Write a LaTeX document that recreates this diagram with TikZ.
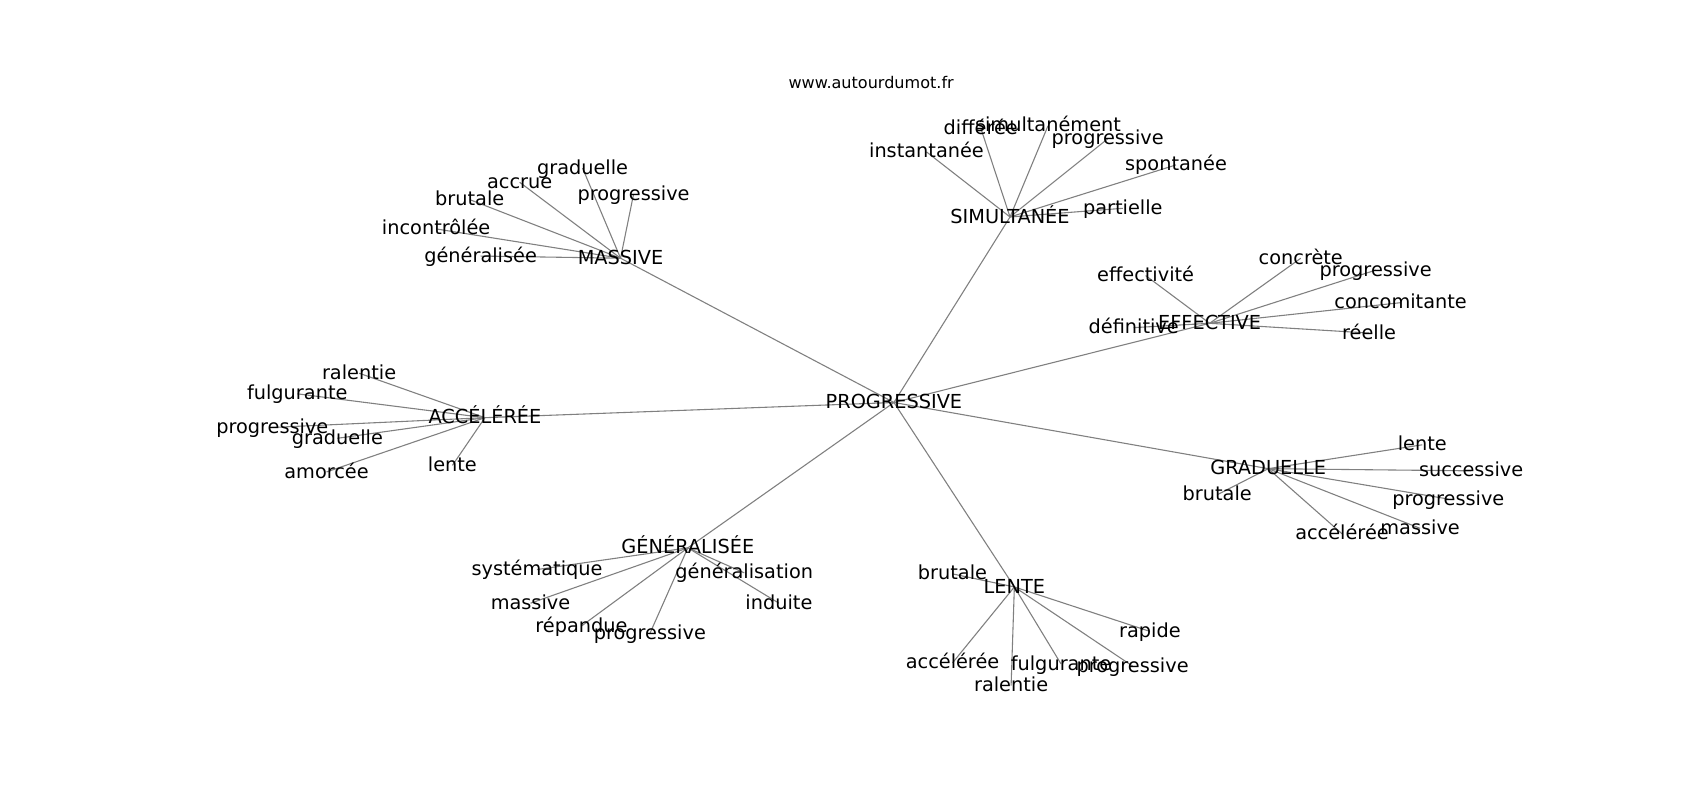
\documentclass[tikz,border=0pt]{standalone}
\usepackage{fontspec}
\setmainfont{DejaVu Sans}
\usetikzlibrary{backgrounds}
\tikzset{
  word/.style={inner sep=0pt, text height=15.5pt, text depth=4.3pt, font=\fontsize{17.8}{20}\selectfont, text=black},
  titletext/.style={inner sep=0pt, font=\fontsize{14.8}{17}\selectfont, text=black},
  link/.style={draw=black!50, line width=1pt}
}
\begin{document}
\begin{tikzpicture}[x=1pt,y=-1pt]
\useasboundingbox (0,0) rectangle (1567,737);
\node[titletext] (title) at (803,76) {www.autourdumot.fr};
\begin{scope}[yshift=-2pt]
% hub
\node[word] (P) at (824,369) {PROGRESSIVE};
% SIMULTANEE
\node[word] (S) at (931,198) {SIMULTANÉE};
\node[word] (S1) at (854,138) {instantanée};
\node[word] (S2) at (904,116) {différée};
\node[word] (S3) at (966,114) {simultanément};
\node[word] (S4) at (1021,126) {progressive};
\node[word] (S5) at (1084,150) {spontanée};
\node[word] (S6) at (1035,190) {partielle};
% MASSIVE
\node[word] (M) at (572,236) {MASSIVE};
\node[word] (M1) at (537,153) {graduelle};
\node[word] (M2) at (479,166) {accrue};
\node[word] (M3) at (433,182) {brutale};
\node[word] (M4) at (584,177) {progressive};
\node[word] (M5) at (402,209) {incontrôlée};
\node[word] (M6) at (443,234) {généralisée};
% ACCELEREE
\node[word] (A) at (447,383) {ACCÉLÉRÉE};
\node[word] (A1) at (331,342) {ralentie};
\node[word] (A2) at (274,361) {fulgurante};
\node[word] (A3) at (251,392) {progressive};
\node[word] (A4) at (311,402) {graduelle};
\node[word] (A5) at (301,433) {amorcée};
\node[word] (A6) at (417,427) {lente};
% EFFECTIVE
\node[word] (E) at (1115,296) {EFFECTIVE};
\node[word] (E1) at (1056,252) {effectivité};
\node[word] (E2) at (1199,236) {concrète};
\node[word] (E3) at (1268,247) {progressive};
\node[word] (E4) at (1291,277) {concomitante};
\node[word] (E5) at (1262,305) {réelle};
\node[word] (E6) at (1045,300) {définitive};
% GRADUELLE
\node[word] (G) at (1169,430) {GRADUELLE};
\node[word] (G1) at (1311,408) {lente};
\node[word] (G2) at (1356,432) {successive};
\node[word] (G3) at (1122,454) {brutale};
\node[word] (G4) at (1335,458) {progressive};
\node[word] (G5) at (1237,490) {accélérée};
\node[word] (G6) at (1309,485) {massive};
% GENERALISEE
\node[word] (N) at (634,503) {GÉNÉRALISÉE};
\node[word] (N1) at (495,523) {systématique};
\node[word] (N2) at (686,526) {généralisation};
\node[word] (N3) at (489,554) {massive};
\node[word] (N4) at (718,554) {induite};
\node[word] (N5) at (536,575) {répandue};
\node[word] (N6) at (599,582) {progressive};
% LENTE
\node[word] (L) at (935,539) {LENTE};
\node[word] (L1) at (878,527) {brutale};
\node[word] (L2) at (1060,580) {rapide};
\node[word] (L3) at (878,609) {accélérée};
\node[word] (L4) at (978,610) {fulgurante};
\node[word] (L5) at (1044,612) {progressive};
\node[word] (L6) at (932,630) {ralentie};
\end{scope}
\begin{scope}[on background layer]
\fill[white] (0,0) rectangle (1567,737);
\foreach \h in {S,M,A,E,G,N,L} {\draw[link] (P.center) -- (\h.center);}
\foreach \h in {S,M,A,E,G,N,L} {
  \foreach \k in {1,...,6} {\draw[link] (\h.center) -- (\h\k.center);}
}
\end{scope}
\end{tikzpicture}
\end{document}
